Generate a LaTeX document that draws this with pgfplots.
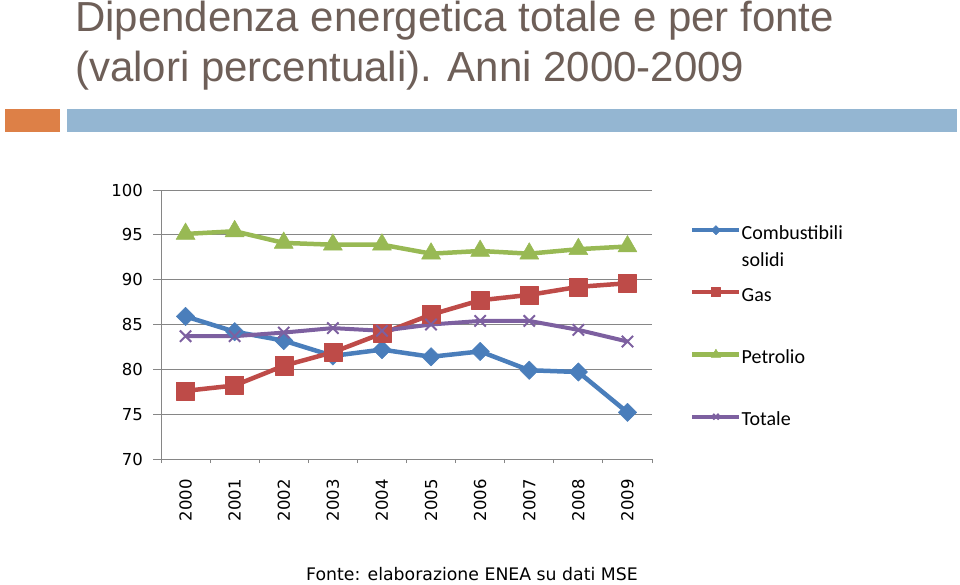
\documentclass[border=0pt]{standalone}
\usepackage{pgfplots}
\pgfplotsset{compat=1.18}
\usepackage{fontspec}
\setmainfont{DejaVu Sans}
\newfontfamily\titlefont{Liberation Sans}
\newfontfamily\legfont{Carlito}
\definecolor{cblue}{RGB}{74,126,187}
\definecolor{cred}{RGB}{190,75,72}
\definecolor{cgreen}{RGB}{152,185,84}
\definecolor{cpurple}{RGB}{125,96,160}
\definecolor{cgrid}{RGB}{134,134,134}
\definecolor{ctitle}{RGB}{110,95,88}
\definecolor{corange}{RGB}{221,128,71}
\definecolor{cbar}{RGB}{148,182,210}
\begin{document}
\begin{tikzpicture}[x=1pt,y=1pt]
\useasboundingbox (0,0) rectangle (960,584);
\fill[corange] (5,452) rectangle (60,475);
\fill[cbar] (67,452) rectangle (957,475);
\node[anchor=base west, inner sep=0pt, text=ctitle, font=\titlefont\fontsize{42}{50}\selectfont] at (75,552.3) {Dipendenza energetica totale e per fonte};
\node[anchor=base west, inner sep=0pt, text=ctitle, font=\titlefont\fontsize{42}{50}\selectfont] at (75,502.3) {(valori percentuali). Anni 2000-2009};
\node[anchor=base west, inner sep=0pt, font=\fontsize{17.3}{20}\selectfont] at (306,4) {Fonte: elaborazione ENEA su dati MSE};
\begin{axis}[
  at={(161pt,125pt)}, anchor=south west,
  scale only axis, width=491pt, height=269pt,
  xmin=-0.5, xmax=9.5, ymin=70, ymax=100,
  xtick={0,1,2,3,4,5,6,7,8,9},
  xticklabels={2000,2001,2002,2003,2004,2005,2006,2007,2008,2009},
  minor xtick={-0.5,0.5,1.5,2.5,3.5,4.5,5.5,6.5,7.5,8.5,9.5},
  ytick={70,75,80,85,90,95,100},
  axis x line*=bottom, axis y line*=left,
  axis line style={cgrid, line width=1pt, -},
  ymajorgrids, grid style={cgrid, line width=1pt},
  tick align=outside,
  major tick length=8pt, minor tick length=4pt,
  major x tick style={draw=none},
  minor x tick style={cgrid, line width=1pt},
  y tick style={cgrid, line width=1pt},
  /pgf/number format/assume math mode=true,
  tick label style={font=\fontsize{16.5}{18}\selectfont, text=black},
  yticklabel style={inner sep=0pt, anchor=east, xshift=-10pt},
  xticklabel style={rotate=90, anchor=east, inner sep=0pt, xshift=-12pt, font=\fontsize{16.5}{18}\selectfont},
  legend style={at={(1.0774,0.8699)}, anchor=north west, draw=none, fill=none,
    inner xsep=0pt, inner ysep=0pt, font=\legfont\fontsize{20}{27}\selectfont,
    cells={anchor=base west}, nodes={inner sep=0pt, text height=14pt, text depth=5pt},
    row sep=43pt, /tikz/every even column/.append style={column sep=2pt}},
  legend image code/.code={\draw[#1, mark repeat=2, mark phase=2, every mark/.append style={scale=0.5}] plot coordinates {(0pt,9pt) (23.5pt,9pt) (47pt,9pt)};},
  every axis plot/.append style={line join=round},
]
\addplot[color=cblue, line width=4.5pt, mark=square*, mark size=6.5pt,
  mark options={rotate=45, fill=cblue, draw=cblue, line width=0.5pt}]
  coordinates {(0,85.9) (1,84.2) (2,83.2) (3,81.5) (4,82.2) (5,81.4) (6,82.0) (7,79.9) (8,79.7) (9,75.2)};
\addlegendentry{\begin{tabular}[t]{@{}l@{}}Combustibili\\solidi\end{tabular}}
\addplot[color=cred, line width=4.5pt, mark=square*, mark size=9pt,
  mark options={fill=cred, draw=cred, line width=0.5pt}]
  coordinates {(0,77.6) (1,78.2) (2,80.4) (3,81.9) (4,84.0) (5,86.1) (6,87.7) (7,88.3) (8,89.2) (9,89.6)};
\addlegendentry{Gas}
\addplot[color=cgreen, line width=4.5pt, mark=triangle*, mark size=11pt,
  mark options={fill=cgreen, draw=cgreen, line width=0.5pt}]
  coordinates {(0,95.1) (1,95.4) (2,94.1) (3,93.9) (4,93.9) (5,92.9) (6,93.2) (7,92.9) (8,93.4) (9,93.7)};
\addlegendentry{Petrolio}
\addplot[color=cpurple, line width=4pt, mark=x, mark size=8pt,
  mark options={draw=cpurple, line width=2pt}]
  coordinates {(0,83.7) (1,83.7) (2,84.1) (3,84.6) (4,84.3) (5,85.0) (6,85.4) (7,85.4) (8,84.4) (9,83.1)};
\addlegendentry{Totale}
\end{axis}
\end{tikzpicture}
\end{document}
